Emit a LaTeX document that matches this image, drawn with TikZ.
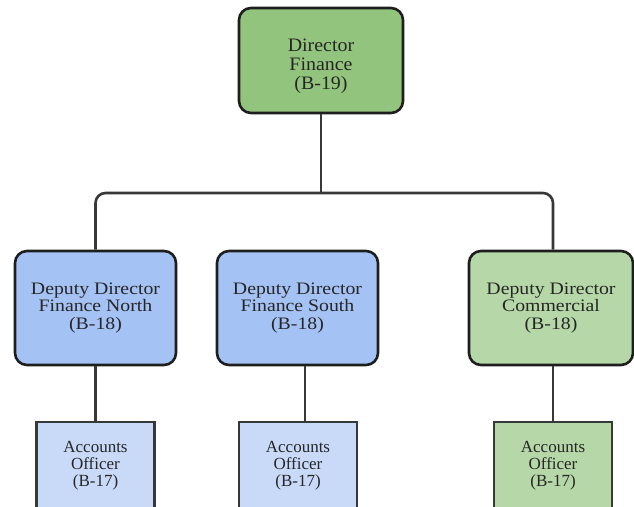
\documentclass[tikz,border=0pt]{standalone}
\usepackage{fontspec}
\setmainfont{Liberation Serif}
\newfontfamily\headfont[FakeStretch=1.05]{Liberation Serif}
\newfontfamily\deputyfont[FakeStretch=1.13]{Liberation Serif}
\newfontfamily\officerfont{Liberation Serif}
\usetikzlibrary{calc}

\definecolor{headgreen}{HTML}{93C47D}
\definecolor{softgreen}{HTML}{B6D7A8}
\definecolor{deputyblue}{HTML}{A4C2F4}
\definecolor{officerblue}{HTML}{C9DAF8}
\definecolor{edgeink}{HTML}{1E1E1E}
\definecolor{wireink}{HTML}{383838}
\definecolor{textink}{HTML}{262626}

\tikzset{
  roundbox/.style={draw=edgeink, line width=2.6pt, rounded corners=12pt,
    align=center, inner sep=0pt, text=textink},
  headbox/.style={roundbox, fill=headgreen, minimum width=164pt, minimum height=105pt,
    font=\headfont\fontsize{19}{19}\selectfont},
  deputybox/.style={roundbox, minimum width=161pt, minimum height=114pt,
    font=\deputyfont\fontsize{17.5}{17.5}\selectfont},
  officerbox/.style={draw=wireink, line width=2.9pt, align=center, inner sep=0pt,
    text=textink, minimum width=118pt, minimum height=88pt,
    font=\officerfont\fontsize{17}{17}\selectfont},
  link/.style={draw=wireink, line width=2.6pt}
}

\begin{document}
\begin{tikzpicture}[x=1pt, y=-1pt]
  \clip (0,0) rectangle (634,506);
  \fill[white] (0,0) rectangle (634,506);

  % top of the chart (the strut drops the three lines a little)
  \node[headbox] (dir) at (321,60.5) {\rule{0pt}{25pt}Director\\Finance\\(B-19)};

  % deputy directors
  \node[deputybox, fill=deputyblue] (dep1) at (95.5,308)
    {Deputy Director\\Finance North\\(B-18)};
  \node[deputybox, fill=deputyblue] (dep2) at (297.5,308)
    {Deputy Director\\Finance South\\(B-18)};
  \node[deputybox, fill=softgreen, minimum width=164pt] (dep3) at (551,308)
    {Deputy Director\\Commercial\\(B-18)};

  % accounts officers (boxes run past the lower edge)
  \node[officerbox, fill=officerblue] (acc1) at (95.5,466) {Accounts\\Officer\\(B-17)};
  \node[officerbox, fill=officerblue] (acc2) at (298,466) {Accounts\\Officer\\(B-17)};
  \node[officerbox, fill=softgreen] (acc3) at (553,466) {Accounts\\Officer\\(B-17)};

  % connectors
  \coordinate (bar) at (321,193);
  \draw[link] (dir.south) -- (bar);
  \draw[link, rounded corners=10pt] (dep1.north) |- (bar) -| (dep3.north -| acc3.north);
  \draw[link] (dep1.south) -- (acc1.north);
  \draw[link] ($(dep2.south)+(7.5,0)$) -- ($(acc2.north)+(7,0)$);
  \draw[link] (dep3.south -| acc3.north) -- (acc3.north);
\end{tikzpicture}
\end{document}
